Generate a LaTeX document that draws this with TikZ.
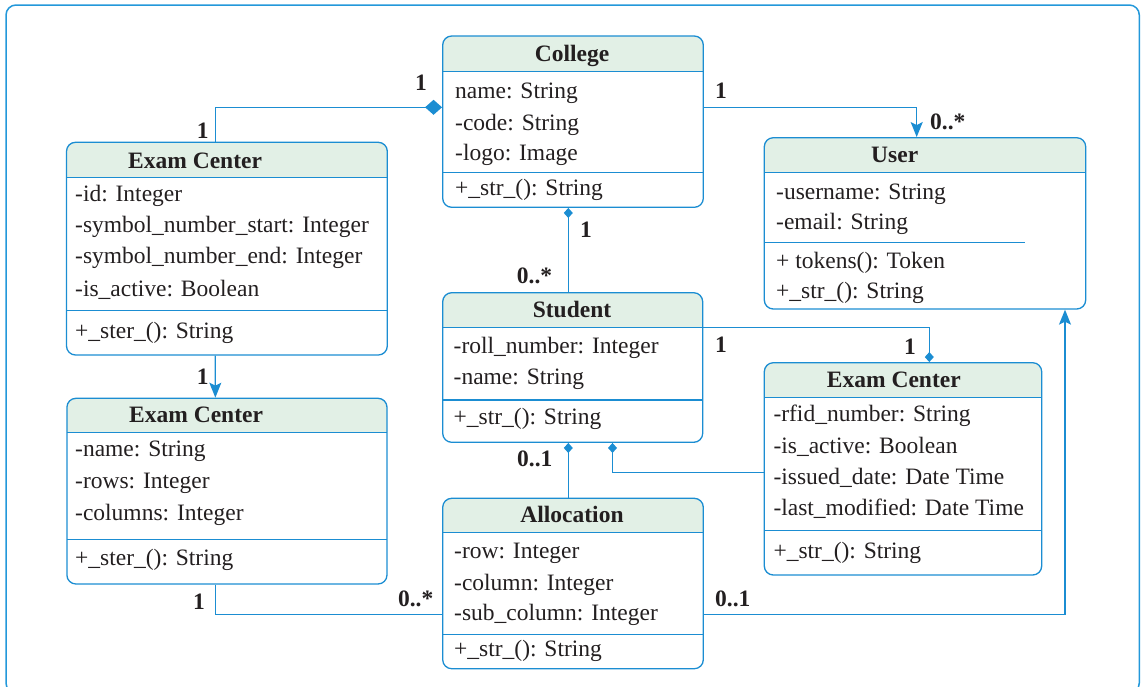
\documentclass[tikz,border=0pt]{standalone}
\usepackage{fontspec}
\setmainfont{Liberation Serif}
\usetikzlibrary{arrows.meta}
\definecolor{ublue}{HTML}{1B8DD2}
\definecolor{framec}{HTML}{2398DA}
\definecolor{hdr}{HTML}{E2F0E6}
\definecolor{ink}{HTML}{231F20}
\tikzset{
  every node/.style={font=\fontsize{23.5}{28}\selectfont, text=ink, inner sep=0pt},
  classbox/.style={draw=ublue, line width=1.3pt, rounded corners=9pt, inner sep=0pt},
  divider/.style={draw=ublue, line width=1.3pt},
  attr/.style={anchor=base west},
  ttl/.style={font=\fontsize{23.5}{28}\selectfont\bfseries},
  mult/.style={anchor=base west, font=\fontsize{23.5}{28}\selectfont\bfseries},
  conn/.style={draw=ublue, line width=1.3pt},
  arrowend/.style={-{Stealth[length=15pt,width=12pt,inset=3pt]}},
  bigdia/.style={{Diamond[length=17pt,width=15pt]}-},
  startdia/.style={{Diamond[length=10pt,width=9pt]}-},
  enddia/.style={-{Diamond[length=10pt,width=9pt]}},
}
% class box: name, x1, y1, x2, y2, bottom of the header band
\newcommand\umlbox[6]{%
  \begin{scope}
    \clip (#2,#3) rectangle (#4,#6);
    \fill[hdr, rounded corners=9pt] (#2,#3) rectangle (#4,#5);
  \end{scope}
  \draw[divider] (#2,#6) -- (#4,#6);
  \pgfmathsetmacro\boxw{#4-#2}%
  \pgfmathsetmacro\boxh{#5-#3}%
  \node[classbox, minimum width=\boxw pt, minimum height=\boxh pt] (#1) at ({(#2+#4)/2},{(#3+#5)/2}) {};
}
% text rows of a compartment: prefix, left x, list of baseline/text
\newcommand\umlrows[3]{%
  \foreach \yb/\tx [count=\i] in {#3} {
    \node[attr] (#1-\i) at (#2,\yb) {\tx};
  }
}
\begin{document}
\begin{tikzpicture}[x=1pt, y=-1pt]
\useasboundingbox (0,0) rectangle (1141,686);
\clip (0,0) rectangle (1141,686);
\draw[framec, line width=1.5pt, rounded corners=10pt] (6,5) rectangle (1139.3,693);

% ---- College
\umlbox{college}{442.7}{36}{703.3}{207.3}{71.7}
\draw[divider] (442.7,172.7) -- (703.3,172.7);
\node[ttl, anchor=base] (college-t) at (572,61.7) {College};
\umlrows{college-a}{455}{98.3/name: String, 130/-code: String, 160.7/-logo: Image}
\umlrows{college-m}{455}{195.7/+\_str\_(): String}

% ---- Exam Center (upper left)
\umlbox{ecA}{66.5}{142.3}{387.3}{355}{177.3}
\draw[divider] (66.5,310.7) -- (387.3,310.7);
\node[ttl, anchor=base west] (ecA-t) at (128,168.3) {Exam Center};
\umlrows{ecA-a}{75}{201.7/-id: Integer, 232.3/-symbol\_number\_start: Integer, 263.3/-symbol\_number\_end: Integer, 296/-is\_active: Boolean}
\umlrows{ecA-m}{75}{338/+\_ster\_(): String}

% ---- Exam Center (lower left)
\umlbox{ecB}{66.9}{398.3}{387}{584}{432.7}
\draw[divider] (66.9,539.3) -- (387,539.3);
\node[ttl, anchor=base west] (ecB-t) at (129,422.7) {Exam Center};
\umlrows{ecB-a}{75}{456.7/-name: String, 488.3/-rows: Integer, 520/-columns: Integer}
\umlrows{ecB-m}{75}{565/+\_ster\_(): String}

% ---- Student
\umlbox{student}{442.7}{292.7}{702.7}{442.3}{327.3}
\draw[divider] (442.7,400) -- (702.7,400);
\node[ttl, anchor=base] (student-t) at (572,317.3) {Student};
\umlrows{student-a}{453.5}{353.3/-roll\_number: Integer, 384.3/-name: String}
\umlrows{student-m}{453.5}{424/+\_str\_(): String}

% ---- Allocation
\umlbox{alloc}{442.7}{498.3}{703.3}{668.7}{532.7}
\draw[divider] (442.7,634.3) -- (703.3,634.3);
\node[ttl, anchor=base] (alloc-t) at (572,522.7) {Allocation};
\umlrows{alloc-a}{454}{558.3/-row: Integer, 590/-column: Integer, 620.7/-sub\_column: Integer}
\umlrows{alloc-m}{454}{656.7/+\_str\_(): String}

% ---- User
\umlbox{user}{764.3}{137.7}{1085.7}{309}{172.3}
\draw[divider] (764.3,242.3) -- (1025,242.3);
\node[ttl, anchor=base west] (user-t) at (871,162.7) {User};
\umlrows{user-a}{776}{199/-username: String, 229.3/-email: String}
\umlrows{user-m}{776}{268.3/+ tokens(): Token, 298.3/+\_str\_(): String}

% ---- Exam Center (right)
\umlbox{ecC}{764.3}{362.7}{1041.7}{575}{397.7}
\draw[divider] (764.3,530.7) -- (1041.7,530.7);
\node[ttl, anchor=base west] (ecC-t) at (826.7,387.7) {Exam Center};
\umlrows{ecC-a}{773.3}{421.7/-rfid\_number: String, 453.3/-is\_active: Boolean, 484/-issued\_date: Date Time, 515.7/-last\_modified: Date Time}
\umlrows{ecC-m}{773.3}{558.3/+\_str\_(): String}

% ---- associations
\draw[conn, bigdia] ([yshift=14.35pt]college.west) -| ([xshift=-11.6pt]ecA.north);
\draw[conn, arrowend] ([yshift=14.35pt]college.east) -| ([xshift=-8.3pt]user.north);
\draw[conn, startdia] ([xshift=-4.7pt]college.south) -- ([xshift=-4.4pt]student.north);
\draw[conn, enddia] ([yshift=40.2pt]student.east) -| ([xshift=26.3pt]ecC.north);
\draw[conn, enddia] ([yshift=-3.65pt]ecC.west) -| ([xshift=39.8pt]student.south);
\draw[conn, startdia] ([xshift=-4.4pt]student.south) -- ([xshift=-4.7pt]alloc.north);
\draw[conn, arrowend] ([xshift=-11.6pt]ecA.south) -- ([xshift=-11.6pt]ecB.north);
\draw[conn] ([xshift=-11.6pt]ecB.south) |- ([yshift=-30.8pt]alloc.west);
\draw[conn, arrowend] ([yshift=-30.8pt]alloc.east) -| ([xshift=140pt]user.south);

% ---- multiplicities
\node[mult] (m1) at (415,90) {1};
\node[mult] (m2) at (196.7,138.3) {1};
\node[mult] (m3) at (715,98.3) {1};
\node[mult] (m4) at (930,129.3) {0..*};
\node[mult] (m5) at (580,237.3) {1};
\node[mult] (m6) at (516.7,283.3) {0..*};
\node[mult] (m7) at (715,352.7) {1};
\node[mult] (m8) at (904,354.3) {1};
\node[mult] (m9) at (196.7,384.3) {1};
\node[mult] (m10) at (517,466) {0..1};
\node[mult] (m11) at (193,609.3) {1};
\node[mult] (m12) at (397.8,606) {0..*};
\node[mult] (m13) at (715,606) {0..1};
\end{tikzpicture}
\end{document}
